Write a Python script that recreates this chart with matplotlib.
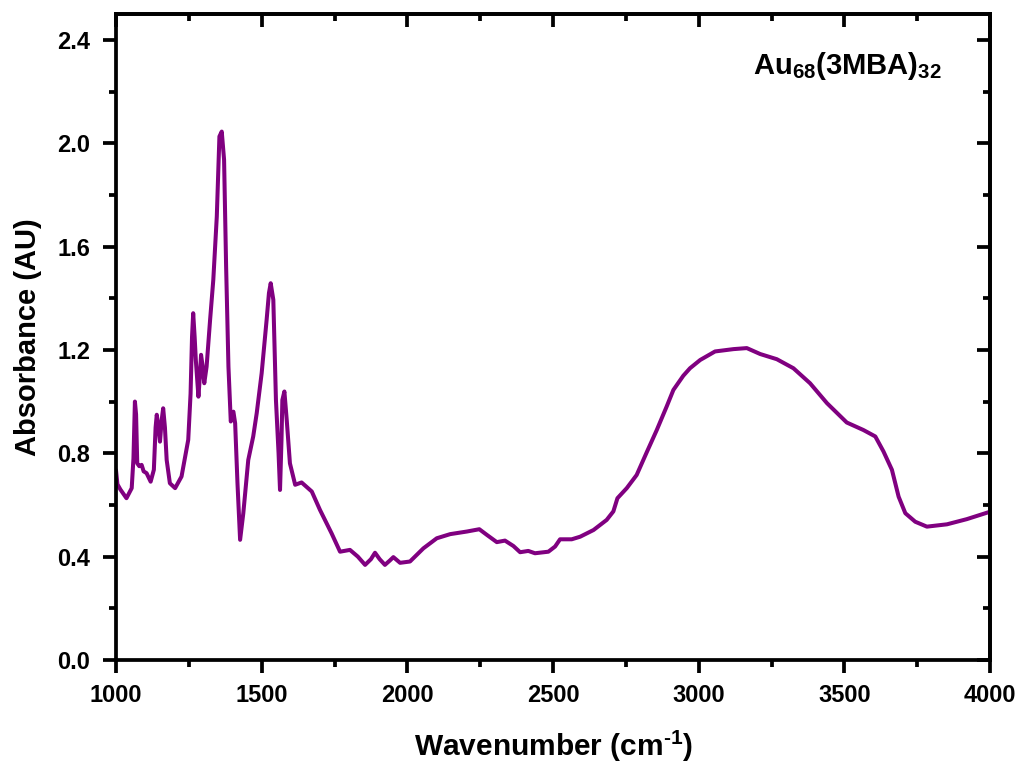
import matplotlib
matplotlib.use('Agg')
import matplotlib.pyplot as plt
from matplotlib.ticker import MultipleLocator, FormatStrFormatter

wavenumber = [1000, 1005, 1015, 1036, 1054, 1060, 1065, 1069, 1073, 1080,
              1088, 1095, 1105, 1119, 1130, 1136, 1140, 1146, 1151, 1157,
              1162, 1168, 1174, 1185, 1203, 1225, 1248, 1256, 1261, 1265,
              1270, 1274, 1283, 1288, 1292, 1297, 1303, 1311, 1323, 1334,
              1346, 1355, 1363, 1371, 1378, 1386, 1394, 1403, 1409, 1417,
              1426, 1437, 1454, 1471, 1483, 1500, 1517, 1525, 1531, 1540,
              1549, 1558, 1563, 1568, 1571, 1578, 1586, 1597, 1615, 1637,
              1672, 1700, 1740, 1769, 1803, 1830, 1855, 1875, 1889, 1905,
              1923, 1940, 1952, 1975, 2009, 2055, 2101, 2147, 2204, 2247,
              2273, 2307, 2335, 2364, 2387, 2415, 2438, 2484, 2507, 2524,
              2564, 2593, 2639, 2684, 2707, 2721, 2753, 2787, 2822, 2856,
              2890, 2913, 2947, 2970, 3005, 3056, 3119, 3165, 3211, 3268,
              3325, 3382, 3440, 3508, 3565, 3606, 3634, 3663, 3686, 3709,
              3743, 3783, 3852, 3920, 3995, 4000]
absorbance = [0.735, 0.68, 0.66, 0.626, 0.665, 0.78, 1.00, 0.95, 0.761, 0.75,
              0.755, 0.73, 0.723, 0.69, 0.736, 0.90, 0.949, 0.90, 0.845, 0.93,
              0.974, 0.90, 0.774, 0.684, 0.665, 0.71, 0.852, 1.03, 1.25, 1.342,
              1.25, 1.161, 1.019, 1.10, 1.181, 1.14, 1.071, 1.135, 1.316, 1.471,
              1.716, 2.026, 2.045, 1.936, 1.523, 1.135, 0.923, 0.961, 0.916, 0.684,
              0.465, 0.568, 0.774, 0.865, 0.955, 1.110, 1.316, 1.42, 1.458, 1.394,
              1.006, 0.80, 0.658, 0.85, 1.006, 1.039, 0.929, 0.761, 0.678, 0.687,
              0.652, 0.581, 0.49, 0.419, 0.426, 0.40, 0.368, 0.39, 0.415, 0.39,
              0.368, 0.385, 0.398, 0.376, 0.381, 0.432, 0.471, 0.487, 0.497, 0.506,
              0.484, 0.456, 0.462, 0.441, 0.417, 0.422, 0.413, 0.419, 0.439, 0.467,
              0.467, 0.477, 0.503, 0.542, 0.575, 0.626, 0.665, 0.716, 0.805, 0.89,
              0.981, 1.045, 1.10, 1.129, 1.161, 1.194, 1.203, 1.207, 1.184, 1.164,
              1.129, 1.071, 0.994, 0.919, 0.89, 0.865, 0.807, 0.736, 0.632, 0.568,
              0.535, 0.516, 0.525, 0.545, 0.572, 0.575]

XLIM = (1000, 4000)
YLIM = (0, 2.5)
LABEL = 'Au$_{68}$(3MBA)$_{32}$'

plt.rcParams['font.family'] = ['Liberation Sans', 'DejaVu Sans']
plt.rcParams['font.weight'] = 'bold'
plt.rcParams['mathtext.fontset'] = 'custom'
plt.rcParams['mathtext.rm'] = 'Liberation Sans:bold'
plt.rcParams['mathtext.bf'] = 'Liberation Sans:bold'
plt.rcParams['mathtext.default'] = 'rm'

LW = 2.7

fig = plt.figure(figsize=(10.2, 7.65), dpi=100)
ax = fig.add_axes([0.1137, 0.1373, 0.857, 0.8444])

ax.plot(wavenumber, absorbance, color='#800080', lw=2.9,
        solid_joinstyle='round', solid_capstyle='round')
ax.set_xlim(*XLIM)
ax.set_ylim(*YLIM)

ax.xaxis.set_major_locator(MultipleLocator(500))
ax.xaxis.set_minor_locator(MultipleLocator(250))
ax.yaxis.set_major_locator(MultipleLocator(0.4))
ax.yaxis.set_minor_locator(MultipleLocator(0.2))
ax.yaxis.set_major_formatter(FormatStrFormatter('%.1f'))

ax.tick_params(which='major', direction='out', length=9.5, width=LW,
               labelsize=17)
ax.tick_params(axis='x', which='major', pad=7.5)
ax.tick_params(axis='y', which='major', pad=9)
ax.tick_params(which='minor', direction='out', length=5, width=LW)
for s in ax.spines.values():
    s.set_linewidth(LW)

# mirrored ticks pointing inward on top and right
top = ax.secondary_xaxis('top')
top.xaxis.set_major_locator(MultipleLocator(500))
top.xaxis.set_minor_locator(MultipleLocator(250))
top.tick_params(which='major', direction='in', length=9.5, width=LW, labeltop=False)
top.tick_params(which='minor', direction='in', length=5, width=LW)
top.spines['top'].set_linewidth(LW)
right = ax.secondary_yaxis('right')
right.yaxis.set_major_locator(MultipleLocator(0.4))
right.yaxis.set_minor_locator(MultipleLocator(0.2))
right.tick_params(which='major', direction='in', length=9.5, width=LW, labelright=False)
right.tick_params(which='minor', direction='in', length=5, width=LW)
right.spines['right'].set_linewidth(LW)

ax.set_xlabel('Wavenumber (cm$^{\\text{-1}}$)', fontsize=21.5, fontweight='bold',
              labelpad=16)
ax.set_ylabel('Absorbance (AU)', fontsize=21, fontweight='bold', labelpad=11)

ax.text(0.729, 0.92, LABEL, transform=ax.transAxes, fontsize=21,
        fontweight='bold', va='center', ha='left')

fig.savefig('out.png', dpi=100)
